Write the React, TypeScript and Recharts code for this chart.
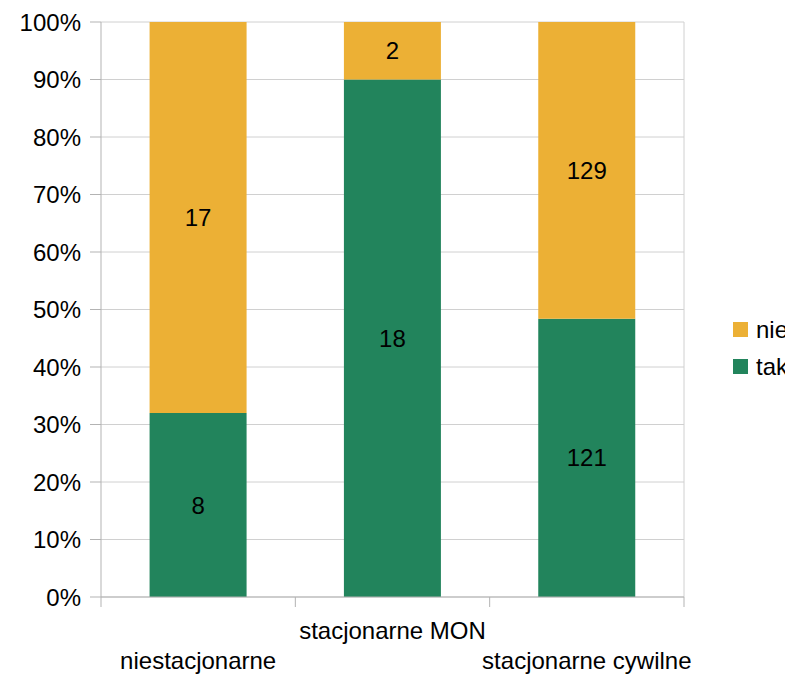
import { Bar, BarChart, CartesianGrid, LabelList, XAxis, YAxis } from "recharts";

const categories = ["niestacjonarne", "stacjonarne MON", "stacjonarne cywilne"];
const takValues = [8, 18, 121];
const nieValues = [17, 2, 129];
const yTicks = [0, 0.1, 0.2, 0.3, 0.4, 0.5, 0.6, 0.7, 0.8, 0.9, 1];

const W = 785;
const H = 674;
const LEFT = 101;
const RIGHT = 101;
const FONT = "'Liberation Sans', Arial, sans-serif";
const GREEN = "#22845c";
const ORANGE = "#ecb035";
const AXIS = "#b3b3b3";
const GRID = "#d0d0d0";

const data = categories.map((name, i) => ({
  name,
  tak: takValues[i],
  nie: nieValues[i],
}));

const STEP = (W - LEFT - RIGHT) / categories.length;

// staggered category labels + tick marks on band boundaries
function CategoryTick(props: any) {
  const { x, y, payload, index } = props;
  const row = index % 2 === 1 ? 42 : 72;
  return (
    <g>
      <line x1={x - STEP / 2} x2={x - STEP / 2} y1={y} y2={y + 10} stroke={AXIS} />
      {index === categories.length - 1 && (
        <line x1={x + STEP / 2} x2={x + STEP / 2} y1={y} y2={y + 10} stroke={AXIS} />
      )}
      <text x={x} y={y + row} textAnchor="middle" fontSize={24} fill="#000" fontFamily={FONT}>
        {payload.value}
      </text>
    </g>
  );
}

const legendItems = [
  { label: "nie", color: ORANGE },
  { label: "tak", color: GREEN },
];

export default function App() {
  return (
    <div
      style={{
        position: "absolute",
        left: 0,
        top: 0,
        width: W,
        height: H,
        overflow: "hidden",
        background: "#fff",
        fontFamily: FONT,
      }}
    >
      <BarChart
        width={W}
        height={H}
        data={data}
        stackOffset="expand"
        barCategoryGap="25%"
        margin={{ top: 22, right: RIGHT, bottom: 0, left: 0 }}
      >
        <CartesianGrid
          stroke={GRID}
          verticalCoordinatesGenerator={({ offset }: any) => [offset.left + offset.width]}
        />
        <XAxis
          dataKey="name"
          height={77}
          stroke={AXIS}
          tickLine={false}
          tickSize={0}
          tickMargin={0}
          interval={0}
          tick={<CategoryTick />}
        />
        <YAxis
          width={LEFT}
          domain={[0, 1]}
          ticks={yTicks}
          stroke={AXIS}
          tickSize={11}
          tickMargin={9}
          tick={{ fill: "#000", fontSize: 24, fontFamily: FONT }}
          tickFormatter={(v: number) => `${Math.round(v * 100)}%`}
        />
        <Bar dataKey="tak" stackId="a" fill={GREEN} isAnimationActive={false}>
          <LabelList dataKey="tak" position="center" fill="#000" fontSize={24} fontFamily={FONT} />
        </Bar>
        <Bar dataKey="nie" stackId="a" fill={ORANGE} isAnimationActive={false}>
          <LabelList dataKey="nie" position="center" fill="#000" fontSize={24} fontFamily={FONT} />
        </Bar>
      </BarChart>
      <div style={{ position: "absolute", left: 733, top: 311, whiteSpace: "nowrap" }}>
        {legendItems.map((it) => (
          <div
            key={it.label}
            style={{ display: "flex", alignItems: "center", height: 37, fontSize: 24, color: "#000" }}
          >
            <span
              style={{ display: "inline-block", width: 15, height: 15, background: it.color, marginRight: 8 }}
            />
            {it.label}
          </div>
        ))}
      </div>
    </div>
  );
}
